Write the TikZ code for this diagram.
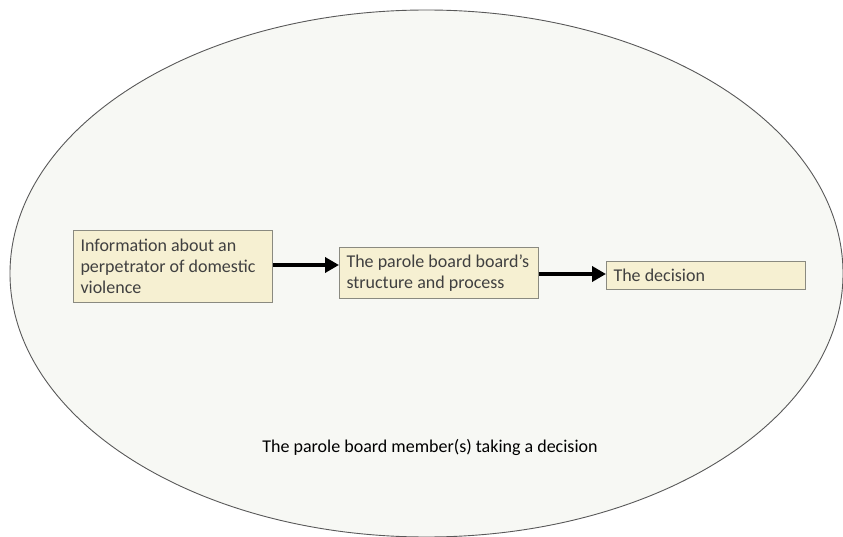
\documentclass[tikz,border=0pt]{standalone}
\usepackage{fontspec}
\setmainfont{Carlito}
\usetikzlibrary{arrows.meta}
\definecolor{ovalfill}{HTML}{F7F8F4}
\definecolor{ovalline}{HTML}{595959}
\definecolor{boxfill}{HTML}{F6F0D2}
\definecolor{boxline}{HTML}{8A8A80}
\definecolor{boxtext}{HTML}{404040}
\begin{document}
\begin{tikzpicture}[x=1pt,y=-1pt,
  stagebox/.style={draw=boxline, line width=1pt, fill=boxfill, text=boxtext,
    anchor=north west, inner xsep=7pt, inner ysep=0pt, align=flush left,
    font=\fontsize{18}{21}\selectfont},
  flow/.style={line width=4pt, -{Triangle[length=14pt,width=15pt]}}]
\useasboundingbox (0,0) rectangle (843,537);
% outer oval for the decision context
\draw[ovalline, fill=ovalfill, line width=0.9pt] (426.5,273.5) ellipse [x radius=416.5, y radius=263.5];
% the three stages
\node[stagebox, minimum width=199pt, minimum height=72pt, text width=185pt] (info) at (73,230)
  {Information about an\\perpetrator of domestic\\violence};
\node[stagebox, minimum width=199pt, minimum height=51pt, text width=185pt] (board) at (339,247)
  {The parole board board’s\\structure and process};
\node[stagebox, minimum width=199pt, minimum height=28pt, text width=185pt] (decision) at (606,261)
  {The decision};
% flow between stages
\draw[flow] (info.east |- 0,265) -- (board.west |- 0,265);
\draw[flow] (board.east |- 0,274) -- (decision.west |- 0,274);
% caption inside the oval
\node[font=\fontsize{18}{21}\selectfont, text=black] (caption) at (430,447)
  {The parole board member(s) taking a decision};
\end{tikzpicture}
\end{document}
